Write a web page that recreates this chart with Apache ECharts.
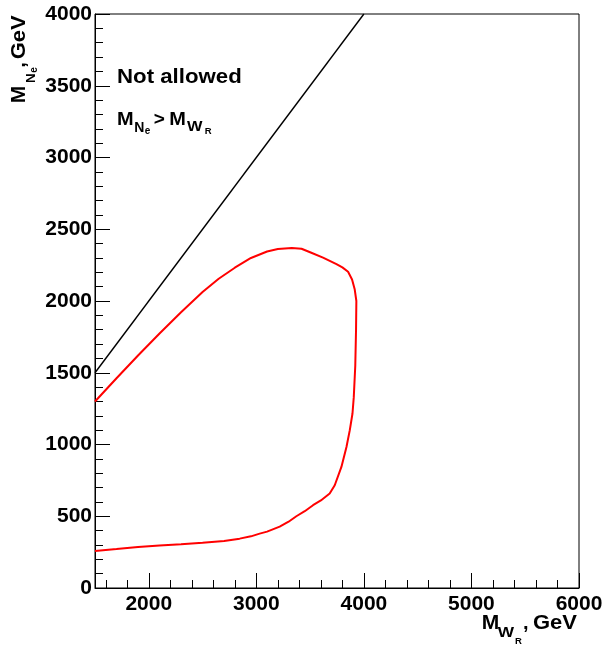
<!DOCTYPE html>
<html>
<head>
<meta charset="utf-8">
<script src="https://cdn.jsdelivr.net/npm/echarts@6/dist/echarts.min.js"></script>
<style>
html,body{margin:0;padding:0;background:#fff;}
#chart{width:606px;height:647px;}
</style>
</head>
<body>
<div id="chart"></div>
<script>
// ---- data ----
const xRange = [1500, 6000];          // M_WR, GeV
const yRange = [0, 4000];             // M_Ne, GeV
const xMajorStep = 1000;
const xMinorStep = 200;
const yMajorStep = 500;
const yMinorSplit = 5;

// kinematic boundary M_Ne = M_WR
const boundaryLine = [[1500, 1500], [4000, 4000]];

// red exclusion contour (M_WR, M_Ne)
const exclusionContour = [
  [1500, 1300], [1700, 1462], [1900, 1620], [2100, 1774], [2300, 1922],
  [2500, 2062], [2650, 2155], [2800, 2232], [2950, 2300], [3100, 2345],
  [3200, 2362], [3330, 2370], [3420, 2364], [3500, 2340], [3620, 2302],
  [3745, 2257], [3800, 2234], [3853, 2204], [3890, 2150], [3915, 2080],
  [3930, 2000], [3927, 1800], [3920, 1550], [3906, 1330], [3894, 1216],
  [3869, 1100], [3838, 983], [3791, 844], [3729, 716], [3682, 658],
  [3600, 610], [3527, 577], [3450, 535], [3372, 500], [3300, 462],
  [3217, 428], [3100, 393], [3031, 379], [2950, 360], [2845, 344],
  [2700, 328], [2500, 316], [2300, 305], [2100, 296], [1900, 285],
  [1700, 271], [1500, 258]
];

// ---- chart ----
const FF = '"Liberation Sans", Arial, Helvetica, sans-serif';
const chart = echarts.init(document.getElementById('chart'), null, {renderer: 'canvas'});

function t(text, x, baseline, fs, scaleX) {
  return {
    type: 'text', x: x, y: baseline - 0.3465 * fs, scaleX: scaleX || 1,
    style: {
      text: text, fill: '#000', fontSize: fs, fontWeight: 'bold', fontFamily: FF,
      align: 'left', verticalAlign: 'middle'
    }
  };
}

const labelStyle = {color: '#000', fontSize: 21, fontWeight: 'bold', fontFamily: FF,
  formatter: function (v) { return String(v); }};

chart.setOption({
  animation: false,
  backgroundColor: '#fff',
  grid: {
    left: 95, right: 27, top: 14, bottom: 59,
    show: true, borderColor: '#000', borderWidth: 1,
    containLabel: false, outerBoundsMode: 'none'
  },
  xAxis: [
    {
      type: 'value', position: 'bottom', min: xRange[0], max: xRange[1],
      minInterval: xMajorStep, maxInterval: xMajorStep, splitNumber: 5,
      axisLine: {show: true, lineStyle: {color: '#000', width: 1}},
      axisTick: {show: true, inside: true, length: 15, lineStyle: {color: '#000', width: 1}},
      axisLabel: Object.assign({show: true, margin: 6, showMinLabel: false, showMaxLabel: true}, labelStyle),
      splitLine: {show: false}
    },
    {
      type: 'value', position: 'bottom', min: xRange[0], max: xRange[1],
      minInterval: xMinorStep, maxInterval: xMinorStep, splitNumber: 22,
      axisLine: {show: false},
      axisTick: {show: true, inside: true, length: 8, lineStyle: {color: '#000', width: 1}},
      axisLabel: {show: false},
      splitLine: {show: false}
    }
  ],
  yAxis: {
    type: 'value', min: yRange[0], max: yRange[1], interval: yMajorStep,
    axisLine: {show: true, lineStyle: {color: '#000', width: 1}},
    axisTick: {show: true, inside: true, length: 15, lineStyle: {color: '#000', width: 1}},
    minorTick: {show: true, splitNumber: yMinorSplit, length: 8, lineStyle: {color: '#000', width: 1}},
    axisLabel: Object.assign({show: true, margin: 3}, labelStyle),
    splitLine: {show: false},
    minorSplitLine: {show: false}
  },
  series: [
    {
      type: 'line', xAxisIndex: 0, yAxisIndex: 0, data: boundaryLine,
      showSymbol: false, symbol: 'none', silent: true,
      lineStyle: {color: '#000', width: 1.4}
    },
    {
      type: 'line', xAxisIndex: 0, yAxisIndex: 0, data: exclusionContour,
      showSymbol: false, symbol: 'none', silent: true, smooth: false,
      lineStyle: {color: '#ff0000', width: 2}
    }
  ],
  graphic: [
    // annotation
    t('Not allowed', 117, 84.3, 19.5, 1.14),
    t('M', 117, 126.3, 19, 1.05),
    t('N', 134.3, 133, 14),
    t('e', 144.7, 134.7, 10),
    t('>', 153.7, 126.3, 19),
    t('M', 169.3, 126.3, 19, 1.05),
    t('W', 187, 132.3, 14.5, 1.13),
    t('R', 204.7, 134.7, 9.5),
    // x-axis title
    t('M', 481.7, 630.3, 20, 1.05),
    t('W', 497.7, 638, 15, 1.15),
    t('R', 515, 644.3, 9.5),
    t(',', 523, 630.3, 20),
    t('GeV', 533, 630.3, 20, 1.1),
    // y-axis title (rotated)
    {
      type: 'group', x: 26.7, y: 103.3, rotation: Math.PI / 2,
      children: [
        t('M', 0, 0, 20, 1.05),
        t('N', 20.3, 9.3, 13.5),
        t('e', 30.6, 11.5, 10),
        t(',', 35.5, 0, 20),
        t('GeV', 44, 0, 20, 1.1)
      ]
    }
  ]
});
</script>
</body>
</html>
